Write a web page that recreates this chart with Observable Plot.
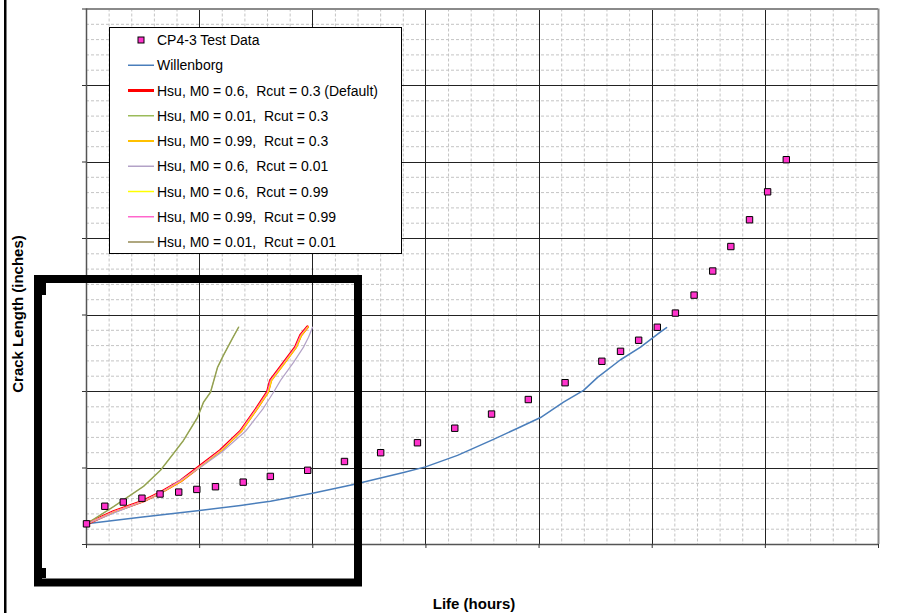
<!DOCTYPE html>
<html><head><meta charset="utf-8">
<script src="https://cdn.jsdelivr.net/npm/d3@7"></script>
<script src="https://cdn.jsdelivr.net/npm/@observablehq/plot@0.6"></script>
<style>body{margin:0;background:#fff} #chart{width:904px;height:613px}</style>
</head><body><div id="chart"></div>
<script>
// Axis tick positions (labels are hidden in the reference)
const xMajor = [0, 1000, 2000, 3000, 4000, 5000, 6000, 7000];
const yMajor = [0, 0.2, 0.4, 0.6, 0.8, 1.0, 1.2, 1.4];
const xMinorStep = 200;
const yMinorStep = 0.04;

// CP4-3 Test Data
const testX = [0, 162, 325, 490, 650, 815, 975, 1140, 1385, 1625, 1955, 2280, 2600, 2925, 3255, 3580, 3905, 4230, 4555, 4720, 4880, 5045, 5205, 5370, 5535, 5695, 5860, 6020, 6185];
const testY = [0.054, 0.100, 0.111, 0.121, 0.132, 0.137, 0.144, 0.151, 0.163, 0.178, 0.194, 0.217, 0.240, 0.266, 0.304, 0.341, 0.379, 0.423, 0.479, 0.505, 0.534, 0.568, 0.605, 0.652, 0.715, 0.779, 0.849, 0.922, 1.006];

// Willenborg
const willX = [0, 477, 999, 1361, 1626, 1998, 2360, 2802, 2996, 3279, 3597, 3810, 4013, 4216, 4393, 4517, 4720, 4897, 5074, 5127];
const willY = [0.054, 0.071, 0.089, 0.102, 0.113, 0.134, 0.157, 0.188, 0.203, 0.233, 0.275, 0.304, 0.332, 0.372, 0.403, 0.437, 0.483, 0.516, 0.556, 0.567];

// Hsu, M0 = 0.6, Rcut = 0.3 (Default)
const hsuDefX = [0, 239, 504, 654, 831, 990, 1184, 1361, 1511, 1600, 1626, 1741, 1847, 1892, 1953];
const hsuDefY = [0.054, 0.086, 0.114, 0.136, 0.166, 0.202, 0.246, 0.296, 0.359, 0.399, 0.429, 0.474, 0.516, 0.547, 0.569];
// Hsu, M0 = 0.99, Rcut = 0.3
const hsuOrX = [0, 246, 512, 662, 840, 999, 1193, 1370, 1520, 1609, 1636, 1750, 1856, 1901, 1960];
// Hsu, M0 = 0.6, Rcut = 0.99 and M0 = 0.99, Rcut = 0.99
const hsuYelX = [0, 242, 508, 658, 835, 994, 1188, 1366, 1515, 1604, 1631, 1745, 1851, 1896, 1956];
const hsuPinkX = [0, 238, 503, 653, 829, 989, 1183, 1359, 1509, 1599, 1625, 1740, 1846, 1891, 1951];
// Hsu, M0 = 0.6, Rcut = 0.01
const hsuLavX = [0, 504, 654, 1008, 1202, 1405, 1556, 1653, 1715, 1830, 1918, 1962, 1998];
const hsuLavY = [0.054, 0.113, 0.134, 0.202, 0.243, 0.296, 0.353, 0.398, 0.429, 0.476, 0.516, 0.542, 0.568];
// Hsu, M0 = 0.01, Rcut = 0.3 and Rcut = 0.01
const hsuGrnX = [0, 239, 504, 654, 769, 857, 981, 1034, 1096, 1158, 1211, 1290, 1344];
const hsuGrnY = [0.054, 0.099, 0.152, 0.194, 0.238, 0.272, 0.332, 0.372, 0.398, 0.463, 0.495, 0.539, 0.568];

const seriesNames = ["CP4-3 Test Data", "Willenborg", "Hsu, M0 = 0.6,  Rcut = 0.3 (Default)", "Hsu, M0 = 0.01,  Rcut = 0.3", "Hsu, M0 = 0.99,  Rcut = 0.3", "Hsu, M0 = 0.6,  Rcut = 0.01", "Hsu, M0 = 0.6,  Rcut = 0.99", "Hsu, M0 = 0.99,  Rcut = 0.99", "Hsu, M0 = 0.01,  Rcut = 0.01"];
const seriesColors = ["#ff33cc", "#4a7ebb", "#ff0000", "#9bbb59", "#ffc000", "#b3a2c7", "#ffff00", "#ff66cc", "#948a54"];
const seriesWidths = [0, 1.5, 3, 1.5, 2, 1.5, 1.5, 1.5, 1.5];

const zip = (xs, ys) => xs.map((x, i) => ({x, y: ys[i]}));

const xMinor = d3.range(0, 7000 / xMinorStep + 1).map(i => i * xMinorStep).filter(v => v % 1000 !== 0);
const yMinor = d3.range(0, 36).filter(i => i % 5 !== 0).map(i => +(i * yMinorStep).toFixed(3));

const lineMark = (xs, ys, k, extra = {}) => Plot.line(zip(xs, ys), {x: "x", y: "y", stroke: seriesColors[k], strokeWidth: seriesWidths[k], ...extra});

const chart = Plot.plot({
  width: 904, height: 613,
  marginLeft: 86, marginRight: 26, marginTop: 8.5, marginBottom: 69,
  style: {fontFamily: "'Liberation Sans', Arial, sans-serif", background: "#fff"},
  x: {domain: [0, 7000]},
  y: {domain: [0, 1.4]},
  marks: [
    Plot.gridX(xMinor, {stroke: "#c4c4c4", strokeOpacity: 1, strokeDasharray: "3,2"}),
    Plot.gridY(yMinor, {stroke: "#c4c4c4", strokeOpacity: 1, strokeDasharray: "3,2"}),
    Plot.gridX(xMajor.slice(1, -1), {stroke: "#222", strokeOpacity: 1, shapeRendering: "crispEdges"}),
    Plot.gridY(yMajor.slice(1, -1), {stroke: "#222", strokeOpacity: 1, shapeRendering: "crispEdges"}),
    Plot.ruleY([1.4], {stroke: "#8a8a8a", strokeWidth: 2}),
    Plot.ruleX([7000], {stroke: "#8a8a8a", strokeWidth: 2}),
    Plot.ruleY([0], {stroke: "#555", strokeWidth: 1.5}),
    Plot.ruleX([0], {stroke: "#555", strokeWidth: 1.5}),
    Plot.axisX({ticks: xMajor, tickSize: 4, tickFormat: () => "", stroke: "#333", label: null}),
    Plot.axisY({ticks: yMajor, tickSize: 4, tickFormat: () => "", stroke: "#333", label: null}),
    lineMark(willX, willY, 1),
    lineMark(hsuDefX, hsuDefY, 2),
    lineMark(hsuGrnX, hsuGrnY, 3),
    lineMark(hsuOrX, hsuDefY, 4, {strokeWidth: 1.5}),
    lineMark(hsuLavX, hsuLavY, 5, {strokeWidth: 1.2}),
    lineMark(hsuYelX, hsuDefY, 6, {strokeWidth: 1}),
    lineMark(hsuPinkX, hsuDefY, 7, {strokeWidth: 1}),
    lineMark(hsuGrnX, hsuGrnY, 8, {strokeWidth: 1, strokeOpacity: 0.75}),
    Plot.dot(zip(testX, testY), {x: "x", y: "y", symbol: "square", r: 3.6, fill: seriesColors[0], stroke: "#000", strokeWidth: 1})
  ]
});
document.getElementById("chart").appendChild(chart);

const svg = d3.select(chart);
const font = "'Liberation Sans', Arial, sans-serif";

// Legend
const lg = svg.append("g").attr("text-anchor", "start");
lg.append("rect").attr("x", 109.5).attr("y", 27.5).attr("width", 292).attr("height", 226)
  .attr("fill", "#fff").attr("stroke", "#000").attr("stroke-width", 1);
seriesNames.forEach((name, i) => {
  const cy = 40 + i * 25.25;
  if (i === 0) {
    lg.append("rect").attr("x", 138).attr("y", cy - 3).attr("width", 6).attr("height", 6)
      .attr("fill", seriesColors[0]).attr("stroke", "#000").attr("stroke-width", 1);
  } else {
    lg.append("line").attr("x1", 128).attr("x2", 154).attr("y1", cy).attr("y2", cy)
      .attr("stroke", seriesColors[i]).attr("stroke-width", i === 2 ? 3 : (i === 4 ? 2 : 1.5));
  }
  lg.append("text").attr("x", 157).attr("y", cy + 5).attr("text-anchor", "start").text(name)
    .attr("font-family", font).attr("font-size", 14).attr("fill", "#000")
    .style("white-space", "pre");
});

// Axis titles
svg.append("text").attr("transform", "translate(23,314) rotate(-90)").attr("text-anchor", "middle")
  .attr("font-family", font).attr("font-size", 15).attr("font-weight", "bold").text("Crack Length (inches)");
svg.append("text").attr("x", 474).attr("y", 609).attr("text-anchor", "middle")
  .attr("font-family", font).attr("font-size", 15).attr("font-weight", "bold").text("Life (hours)");

// Decorations: left border line and thick black box
svg.append("rect").attr("x", 4).attr("y", 0).attr("width", 2.5).attr("height", 613).attr("fill", "#000");
svg.append("rect").attr("x", 38).attr("y", 279).attr("width", 320).attr("height", 303.5)
  .attr("fill", "none").attr("stroke", "#000").attr("stroke-width", 8);
svg.append("rect").attr("x", 42).attr("y", 283).attr("width", 4).attr("height", 12).attr("fill", "#000");
svg.append("rect").attr("x", 42).attr("y", 568).attr("width", 4).attr("height", 10).attr("fill", "#000");
</script>
</body></html>
